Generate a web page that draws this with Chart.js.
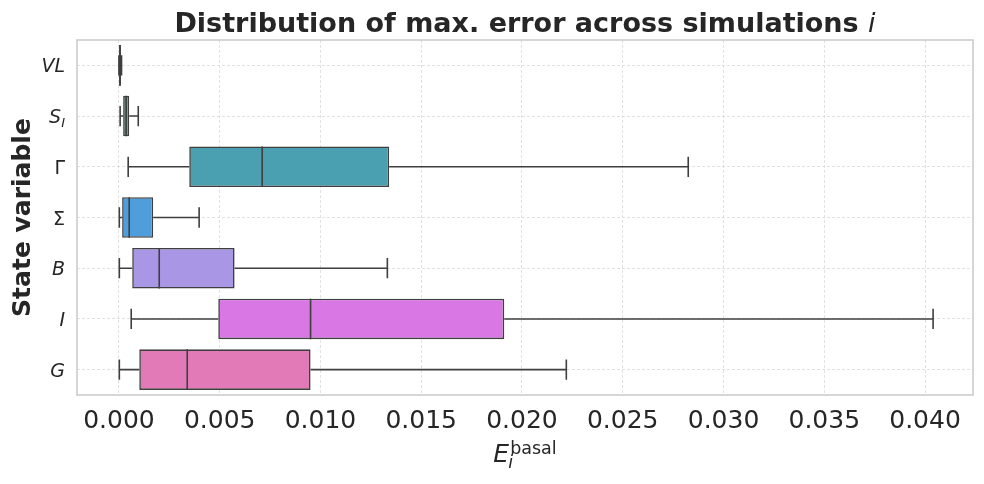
<!DOCTYPE html>
<html><head><meta charset="utf-8">
<script src="https://cdn.jsdelivr.net/npm/chart.js@4/dist/chart.umd.min.js"></script>
<style>html,body{margin:0;padding:0;background:#fff}#wrap{width:984px;height:484px}</style>
</head><body><div id="wrap"><canvas id="c" width="984" height="484"></canvas></div>
<script>
// ---- data ----
const categories   = ['VL', 'S', 'Γ', 'Σ', 'B', 'I', 'G'];
const catSubscript = ['', 'I', '', '', '', '', ''];
const catItalic    = [true, true, false, false, true, true, true];
const whiskerLow   = [0.00000, 0.00006, 0.00046, 0.00002, 0.00002, 0.00061, 0.00002];
const quartile1    = [0.00001, 0.00021, 0.00349, 0.00016, 0.00066, 0.00493, 0.00101];
const medians      = [0.00005, 0.00036, 0.00711, 0.00051, 0.00200, 0.00951, 0.00339];
const quartile3    = [0.00010, 0.00051, 0.01341, 0.00170, 0.00574, 0.01912, 0.00951];
const whiskerHigh  = [0.00013, 0.00096, 0.02825, 0.00398, 0.01332, 0.04040, 0.02220];
const xTickStep    = 0.005;
const xMin = -0.00208, xMax = 0.04238;
const boxColors    = ['#cf7a86', '#3a9b87', '#4a9fb0', '#4f9edc', '#a997e6', '#d977e4', '#e27ab8'];

const FONT = '"DejaVu Sans", sans-serif';
const EDGE = '#3f3f3f';
const TXT = '#262626';

const boxPlugin = {
  id: 'boxparts',
  afterDatasetsDraw(chart) {
    const {ctx, scales: {x, y}} = chart;
    const band = Math.abs(y.getPixelForValue(1) - y.getPixelForValue(0));
    const boxH = band * 0.8, capH = band * 0.4;
    ctx.save();
    ctx.strokeStyle = EDGE; ctx.lineWidth = 1.6; ctx.lineCap = 'butt';
    categories.forEach((c, i) => {
      const yc = y.getPixelForValue(i);
      const xl = x.getPixelForValue(whiskerLow[i]);
      const x1 = x.getPixelForValue(quartile1[i]);
      const x3 = x.getPixelForValue(quartile3[i]);
      const xh = x.getPixelForValue(whiskerHigh[i]);
      const xm = x.getPixelForValue(medians[i]);
      ctx.beginPath();
      ctx.moveTo(xl, yc); ctx.lineTo(x1, yc);
      ctx.moveTo(x3, yc); ctx.lineTo(xh, yc);
      ctx.moveTo(xl, yc - capH / 2); ctx.lineTo(xl, yc + capH / 2);
      ctx.moveTo(xh, yc - capH / 2); ctx.lineTo(xh, yc + capH / 2);
      ctx.moveTo(xm, yc - boxH / 2); ctx.lineTo(xm, yc + boxH / 2);
      ctx.stroke();
    });
    ctx.restore();
  },
  afterDraw(chart) {
    const {ctx, chartArea: a, scales: {y}} = chart;
    ctx.save();
    // frame
    ctx.strokeStyle = '#cccccc'; ctx.lineWidth = 1.6;
    ctx.strokeRect(a.left, a.top, a.right - a.left, a.bottom - a.top);
    ctx.fillStyle = TXT;
    // title
    const t1 = 'Distribution of max. error across simulations ';
    ctx.font = 'bold 27px ' + FONT;
    const w1 = ctx.measureText(t1).width;
    ctx.font = 'italic 27px ' + FONT;
    const w2 = ctx.measureText('i').width;
    const cx = (a.left + a.right) / 2;
    let sx = cx - (w1 + w2) / 2;
    ctx.textBaseline = 'alphabetic'; ctx.textAlign = 'left';
    ctx.font = 'bold 27px ' + FONT; ctx.fillText(t1, sx, 32);
    ctx.font = 'italic 27px ' + FONT; ctx.fillText('i', sx + w1, 32);
    // y title
    ctx.save();
    ctx.translate(30, (a.top + a.bottom) / 2);
    ctx.rotate(-Math.PI / 2);
    ctx.font = 'bold 25px ' + FONT; ctx.textAlign = 'center';
    ctx.fillText('State variable', 0, 0);
    ctx.restore();
    // y tick labels
    categories.forEach((c, i) => {
      const yc = y.getPixelForValue(i);
      const base = yc + 7;
      const mainFont = (catItalic[i] ? 'italic ' : '') + '19px ' + FONT;
      const subFont = 'italic 13px ' + FONT;
      ctx.font = subFont;
      const ws = catSubscript[i] ? ctx.measureText(catSubscript[i]).width : 0;
      const right = a.left - 12;
      ctx.textAlign = 'right';
      if (catSubscript[i]) {
        ctx.font = subFont; ctx.fillText(catSubscript[i], right, base + 4);
      }
      ctx.font = mainFont; ctx.fillText(c, right - ws, base);
    });
    // x label E_i^basal
    ctx.textAlign = 'left';
    ctx.font = 'italic 25px ' + FONT;
    const wE = ctx.measureText('E').width;
    ctx.font = '17.5px ' + FONT;
    const wSup = ctx.measureText('basal').width;
    const total = wE + 1 + wSup;
    const ex = cx - total / 2;
    const eb = 462;
    ctx.font = 'italic 25px ' + FONT; ctx.fillText('E', ex, eb);
    ctx.font = 'italic 17.5px ' + FONT; ctx.fillText('i', ex + wE - 1, eb + 6);
    ctx.font = '17.5px ' + FONT; ctx.fillText('basal', ex + wE + 1, eb - 8);
    ctx.restore();
  }
};

new Chart(document.getElementById('c'), {
  type: 'bar',
  data: {
    labels: categories,
    datasets: [{
      data: quartile1.map((q, i) => [q, quartile3[i]]),
      backgroundColor: boxColors,
      borderColor: EDGE,
      borderWidth: 1.6,
      borderSkipped: false,
      barPercentage: 0.8,
      categoryPercentage: 1.0
    }]
  },
  options: {
    indexAxis: 'y',
    responsive: false,
    animation: false,
    layout: {padding: {left: 0, right: 11, top: 40, bottom: 0}},
    plugins: {legend: {display: false}, tooltip: {enabled: false}, title: {display: false}},
    scales: {
      x: {
        type: 'linear', position: 'bottom', min: xMin, max: xMax,
        afterFit: s => { s.height = 89; },
        ticks: {
          stepSize: xTickStep, includeBounds: false,
          callback: v => Number(v).toFixed(3),
          font: {family: FONT, size: 25}, color: TXT, padding: 11, maxRotation: 0, autoSkip: false
        },
        grid: {color: '#d9d9d9', lineWidth: 0.8, drawTicks: false, borderDash: [3, 2]},
        border: {display: false, dash: [3, 2]}
      },
      y: {
        type: 'category',
        afterFit: s => { s.width = 77; },
        ticks: {display: false},
        grid: {color: '#d9d9d9', lineWidth: 0.8, drawTicks: false, offset: false, borderDash: [3, 2]},
        border: {display: false, dash: [3, 2]}
      }
    }
  },
  plugins: [boxPlugin]
});
</script>
</body></html>
